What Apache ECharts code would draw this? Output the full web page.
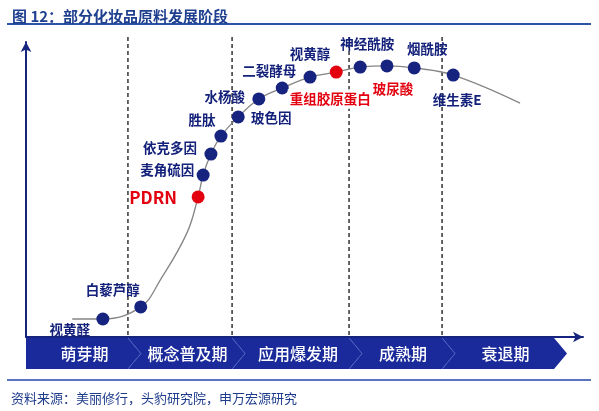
<!DOCTYPE html>
<html><head><meta charset="utf-8">
<script src="https://cdn.jsdelivr.net/npm/echarts@6/dist/echarts.min.js"></script>
<style>html,body{margin:0;padding:0;background:#fff}#c{width:599px;height:411px}</style>
</head><body><div id="c"></div>
<script>
// ---- data ----
const titleText = '图 12：部分化妆品原料发展阶段';
const sourceText = '资料来源：美丽修行，头豹研究院，申万宏源研究';
const ingredientNames = ['视黄醛','白藜芦醇','PDRN','麦角硫因','依克多因','胜肽','玻色因','水杨酸','二裂酵母','视黄醇','重组胶原蛋白','神经酰胺','玻尿酸','烟酰胺','维生素E'];
const ingredientX = [13.8, 20.6, 30.9, 31.8, 33.2, 35.0, 38.1, 41.8, 46.0, 51.0, 55.7, 60.0, 64.8, 69.7, 76.7];
const ingredientY = [6.1, 10.2, 47.5, 54.9, 62.0, 68.1, 74.6, 80.7, 84.4, 88.1, 89.8, 91.5, 91.9, 91.2, 88.8];
const redPoints = ['PDRN','重组胶原蛋白'];
const redLabels = ['PDRN','重组胶原蛋白','玻尿酸'];
// extra points of the curve line (no marker)
const curveTraceX = [8.3, 24.1, 28.9, 88.7];
const curveTraceY = [6.1, 19.3, 35.3, 79.3];
const stageNames = ['萌芽期','概念普及期','应用爆发期','成熟期','衰退期'];
const stageBounds = [0, 18.3, 37.0, 58.0, 74.7, 94.8];
const dividerX = [18.3, 37.0, 58.0, 74.7];

// ---- layout / style (not data) ----
const labelOffsets = {
  '视黄醛':[-33,11], '白藜芦醇':[-28,-17], 'PDRN':[-45,1], '麦角硫因':[-36,-5],
  '依克多因':[-41,-6], '胜肽':[-19,-16], '玻色因':[33,1], '水杨酸':[-34,-2],
  '二裂酵母':[-13,-17], '视黄醇':[0,-23], '重组胶原蛋白':[-6,27], '神经酰胺':[7,-23],
  '玻尿酸':[6,23], '烟酰胺':[13,-19], '维生素E':[4,25]
};
const NAVY = '#16237f', LABEL = '#14217a', RED = '#e3000f', BANNER = '#1b2a9a', FONT = '"Noto Sans CJK SC", sans-serif';

const chart = echarts.init(document.getElementById('c'), null, {renderer:'canvas'});

const curveData = ingredientX.map((x,i)=>[x, ingredientY[i]])
  .concat(curveTraceX.map((x,i)=>[x, curveTraceY[i]]))
  .sort((a,b)=>a[0]-b[0]);
const pointData = ingredientNames.map((n,i)=>{
  const red = redPoints.includes(n), redL = redLabels.includes(n);
  const lbl = {
    show: true, formatter: n, position: 'inside', offset: labelOffsets[n],
    color: redL ? RED : LABEL, fontWeight: 'bold',
    fontSize: n === 'PDRN' ? 17 : 13.5, fontFamily: FONT
  };
  if (n === '重组胶原蛋白') { lbl.backgroundColor = '#ffffff'; lbl.padding = [3, 2]; }
  return {
    name: n, value: [ingredientX[i], ingredientY[i]],
    itemStyle: {color: red ? RED : NAVY, opacity: 1},
    label: lbl
  };
});

const axisCommon = {
  type: 'value', min: 0, max: 100,
  axisLine: {show: true, symbol: ['none','arrow'], symbolSize: [8, 10], lineStyle: {color: NAVY, width: 2}},
  axisTick: {show: false}, axisLabel: {show: false}, splitLine: {show: false}
};

chart.setOption({
  animation: false,
  textStyle: {fontFamily: FONT},
  title: [
    {text: titleText, left: 7, top: 4, textStyle: {fontSize: 15, fontWeight: 'bold', color: '#1f3f8f', fontFamily: FONT}},
    {text: sourceText, left: 6, top: 387, textStyle: {fontSize: 13, fontWeight: 'normal', color: '#1f3c8c', fontFamily: FONT}}
  ],
  graphic: [
    {type: 'line', shape: {x1: 7, y1: 24, x2: 591, y2: 24}, style: {stroke: '#2e54a8', lineWidth: 2}},
    {type: 'line', shape: {x1: 7, y1: 380, x2: 591, y2: 380}, style: {stroke: '#2446a8', lineWidth: 1.5}}
  ],
  grid: {left: 26, right: 16, top: 42, bottom: 74},
  xAxis: axisCommon,
  yAxis: axisCommon,
  series: [
    {
      type: 'line', data: curveData, smooth: 0.4, symbol: 'none', clip: false,
      lineStyle: {color: '#858585', width: 1.3}, z: 2
    },
    {
      type: 'custom', data: dividerX.map(x => [x]), z: 1, clip: false,
      renderItem: function(params, api) {
        const x = api.coord([api.value(0), 0])[0];
        const yb = api.coord([0, 0.7])[1];
        const yt = api.coord([0, 101.7])[1];
        return {type: 'line', shape: {x1: x, y1: yb, x2: x, y2: yt},
          style: {stroke: '#404040', lineWidth: 1.6, lineDash: [4, 3]}};
      }
    },
    {
      type: 'scatter', data: pointData, symbolSize: 13, z: 5
    },
    {
      type: 'custom', data: stageNames.map((n,i)=>[stageBounds[i], stageBounds[i+1]]), z: 3, clip: false,
      renderItem: function(params, api) {
        const i = params.dataIndex;
        const x0 = api.coord([api.value(0), 0])[0];
        const x1 = api.coord([api.value(1), 0])[0];
        const base = api.coord([0, 0])[1];
        const top = base + 1, bottom = base + 32, mid = (top + bottom) / 2, tip = 13;
        const pts = i === 0
          ? [[x0, top], [x1, top], [x1 + tip, mid], [x1, bottom], [x0, bottom]]
          : [[x0, top], [x1, top], [x1 + tip, mid], [x1, bottom], [x0, bottom], [x0 + tip, mid]];
        const children = [
          {type: 'polygon', shape: {points: pts}, style: {fill: BANNER}}
        ];
        if (i > 0) children.push({type: 'polyline', shape: {points: [[x0, top], [x0 + tip, mid], [x0, bottom]]}, style: {stroke: '#4b5fc4', lineWidth: 1, fill: null}});
        children.push({type: 'text', style: {text: stageNames[i], x: (x0 + x1) / 2 + tip / 2 + 1, y: mid, fill: '#ffffff', font: '500 16px ' + FONT, textAlign: 'center', textVerticalAlign: 'middle'}});
        return {type: 'group', children: children};
      }
    }
  ]
});
</script></body></html>
